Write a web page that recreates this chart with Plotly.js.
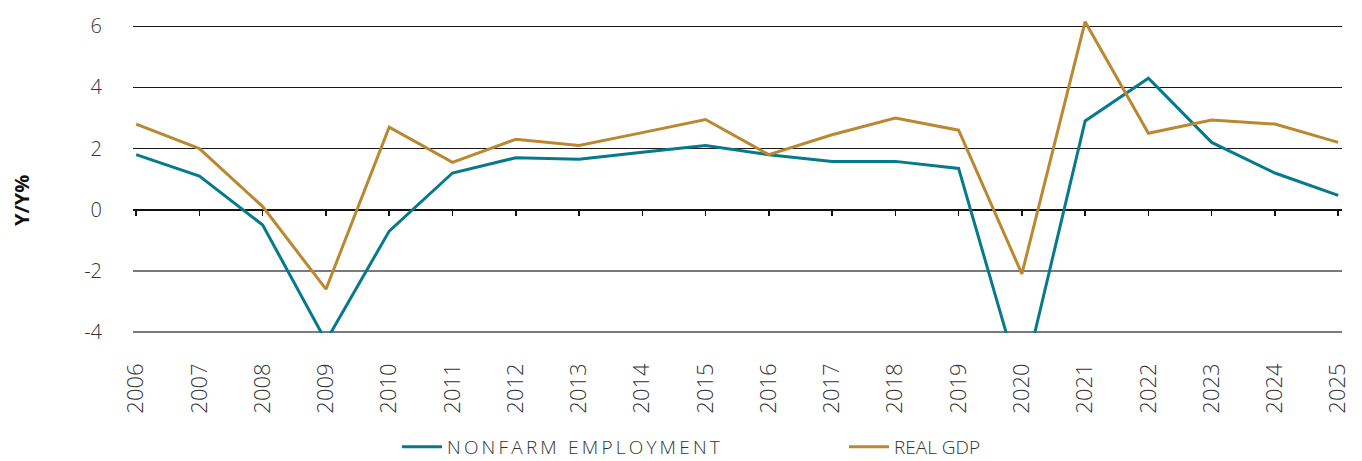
<!DOCTYPE html>
<html><head><meta charset="utf-8">
<script src="https://cdn.plot.ly/plotly-3.0.1.min.js"></script>
<style>html,body{margin:0;padding:0;background:#fff}
.legendtext{letter-spacing:3.2px}
</style>
</head><body><div id="chart" style="width:1362px;height:461px"></div>
<script>
const years = [2006,2007,2008,2009,2010,2011,2012,2013,2014,2015,2016,2017,2018,2019,2020,2021,2022,2023,2024,2025];
const nonfarmEmployment = [1.8,1.1,-0.5,-4.3,-0.7,1.2,1.7,1.65,1.88,2.1,1.8,1.58,1.58,1.35,-5.8,2.9,4.3,2.2,1.2,0.47];
const realGdp = [2.8,2.0,0.1,-2.6,2.7,1.55,2.3,2.1,2.52,2.95,1.8,2.45,3.0,2.6,-2.1,6.15,2.5,2.93,2.8,2.2];
const yTickVals = [-4,-2,0,2,4,6];
const upperGridVals = [2,4,6];
const lowerGridVals = [-4,-2];
const seriesNames = ['NONFARM EMPLOYMENT','REAL GDP'];

const W = 1362, H = 461;
const M = {l:133, r:20, t:14, b:128};
const yRange = [-4.033, 6.4];
const xRange = [2005.95, 2025.06];
const plotW = W - M.l - M.r, plotH = H - M.t - M.b;
const FONT = '"Open Sans", "Noto Sans", sans-serif';
const textColor = '#333333';

const helper = (ax) => Object.assign({x:[], y:[], type:'scatter', mode:'lines', showlegend:false, hoverinfo:'skip'}, ax);

const traces = [
  helper({yaxis:'y2'}),
  helper({yaxis:'y3'}),
  helper({xaxis:'x2'}),
  {x: years, y: nonfarmEmployment, name: seriesNames[0], type:'scatter', mode:'lines',
   line:{color:'#067A8C', width:3}, legend:'legend'},
  {x: years, y: realGdp, name: seriesNames[1], type:'scatter', mode:'lines',
   line:{color:'#BA8830', width:3}, legend:'legend2'}
];

const zeroFrac = (0 - yRange[0]) / (yRange[1] - yRange[0]);
const legendFont = {family:FONT, size:19, color:textColor, weight:300};
const legendBase = {orientation:'h', xanchor:'left', yanchor:'middle', yref:'container', y:(H-447)/H,
  font:legendFont, bgcolor:'rgba(0,0,0,0)', itemwidth:40};

const layout = {
  width: W, height: H,
  margin: M,
  paper_bgcolor:'#fff', plot_bgcolor:'#fff',
  font:{family:FONT, color:textColor, size:20, weight:300},
  showlegend:true,
  legend:Object.assign({}, legendBase, {x:(397 - M.l)/plotW}),
  legend2:Object.assign({}, legendBase, {x:(844 - M.l)/plotW}),
  xaxis:{range:xRange, tickmode:'array', tickvals:years, ticktext:years.map(String),
    tickangle:-90, ticks:'', showgrid:false, zeroline:false, showline:false,
    ticklabelstandoff:25, tickfont:{family:FONT, size:22, color:textColor, weight:300}},
  xaxis2:{overlaying:'x', range:xRange, anchor:'free', position:zeroFrac, side:'bottom',
    tickmode:'array', tickvals:years, showticklabels:false, ticks:'outside', ticklen:5, tickwidth:1.5,
    tickcolor:'#111', showgrid:false, zeroline:false, showline:false},
  yaxis:{range:yRange, tickmode:'array', tickvals:yTickVals, ticktext:yTickVals.map(String),
    showgrid:false, zeroline:true, zerolinecolor:'#111', zerolinewidth:2, showline:false, ticks:'',
    ticklabelstandoff:30, tickfont:{family:FONT, size:20, color:textColor, weight:300}},
  yaxis2:{overlaying:'y', anchor:'x', range:yRange, tickmode:'array', tickvals:upperGridVals,
    showticklabels:false, showgrid:true, gridcolor:'#1a1a1a', gridwidth:1, zeroline:false, ticks:''},
  yaxis3:{overlaying:'y', anchor:'x', range:yRange, tickmode:'array', tickvals:lowerGridVals,
    showticklabels:false, showgrid:true, gridcolor:'#7a7a7a', gridwidth:2, zeroline:false, ticks:''},
  annotations:[{text:'<b>Y/Y%</b>', textangle:-90, xref:'paper', yref:'paper',
    x:(21 - M.l)/plotW, y:(H - M.b - 201)/plotH, xanchor:'center', yanchor:'middle',
    showarrow:false, font:{family:FONT, size:20, color:'#111', weight:700}}]
};

Plotly.newPlot('chart', traces, layout, {displayModeBar:false, staticPlot:true});
</script></body></html>
